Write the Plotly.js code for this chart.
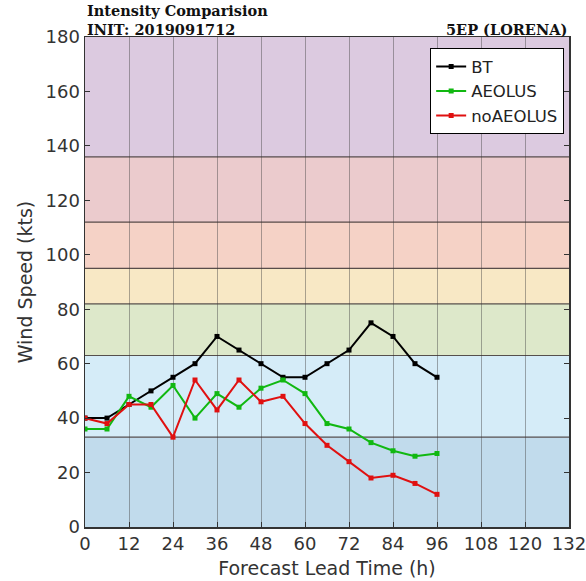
<!DOCTYPE html>
<html>
<head>
<meta charset="utf-8">
<script src="https://cdn.plot.ly/plotly-3.0.1.min.js"></script>
<style>
  html, body { margin: 0; padding: 0; background: #fff; }
  #chart { width: 586px; height: 581px; }
</style>
</head>
<body>
<div id="chart"></div>
<script>
// Forecast lead times (h)
const leadTime = [0, 6, 12, 18, 24, 30, 36, 42, 48, 54, 60, 66, 72, 78, 84, 90, 96];

// Intensity (kts)
const bt        = [40, 40, 45, 50, 55, 60, 70, 65, 60, 55, 55, 60, 65, 75, 70, 60, 55];
const aeolus    = [36, 36, 48, 44, 52, 40, 49, 44, 51, 54, 49, 38, 36, 31, 28, 26, 27];
const noAeolus  = [40, 38, 45, 45, 33, 54, 43, 54, 46, 48, 38, 30, 24, 18, 19, 16, 12];

// Saffir-Simpson category bands (kts)
const bandEdges  = [0, 33, 63, 82, 95, 112, 136, 180];
const bandColors = ['#c1dbec', '#d5ecf8', '#dde8ca', '#f8e8c5', '#f5d2c6', '#ebcbcd', '#dccae0'];

const xTicks = [0, 12, 24, 36, 48, 60, 72, 84, 96, 108, 120, 132];
const yTicks = [0, 20, 40, 60, 80, 100, 120, 140, 160, 180];

const shapes = [];
for (let i = 0; i < bandColors.length; i++) {
  shapes.push({
    type: 'rect', xref: 'x', yref: 'y', layer: 'below',
    x0: 0, x1: 132, y0: bandEdges[i], y1: bandEdges[i + 1],
    fillcolor: bandColors[i], line: { width: 0 }
  });
}
for (let i = 1; i < bandEdges.length - 1; i++) {
  shapes.push({
    type: 'line', xref: 'x', yref: 'y', layer: 'between',
    x0: 0, x1: 132, y0: bandEdges[i], y1: bandEdges[i],
    line: { color: 'rgba(60,50,50,0.85)', width: 1.2 }
  });
}

function series(name, y, color) {
  return {
    type: 'scatter', mode: 'lines+markers', name: name,
    x: leadTime, y: y,
    line: { color: color, width: 2 },
    marker: { color: color, size: 5, symbol: 'square' }
  };
}

const data = [
  series('BT', bt, '#000000'),
  series('AEOLUS', aeolus, '#11b811'),
  series('noAEOLUS', noAeolus, '#e01010')
];

const serif = 'DejaVu Serif, Liberation Serif, serif';

const layout = {
  width: 586, height: 581,
  margin: { l: 85, r: 17, t: 37, b: 54 },
  paper_bgcolor: '#ffffff',
  plot_bgcolor: 'rgba(0,0,0,0)',
  font: { family: 'DejaVu Sans, sans-serif', color: '#333333' },
  showlegend: true,
  legend: {
    x: 0.99, y: 0.977, xanchor: 'right', yanchor: 'top',
    bgcolor: '#ffffff', bordercolor: '#000000', borderwidth: 1,
    font: { size: 16.5, color: '#222222' },
    tracegroupgap: 0, itemwidth: 30
  },
  xaxis: {
    range: [0, 132], tickvals: xTicks, ticktext: xTicks.map(String),
    showgrid: true, gridcolor: 'rgba(70,70,70,0.45)', gridwidth: 1,
    zeroline: false, showline: true, linecolor: '#333333', linewidth: 1.5, mirror: true,
    ticks: 'inside', ticklen: 5, tickcolor: '#333333',
    ticklabeloverflow: 'allow',
    tickfont: { size: 18, color: '#333333' },
    title: { text: 'Forecast Lead Time (h)', font: { size: 19, color: '#333333' }, standoff: 8 }
  },
  yaxis: {
    range: [0, 180], tickvals: yTicks, ticktext: yTicks.map(String),
    showgrid: false, zeroline: false,
    showline: true, linecolor: '#333333', linewidth: 1.5, mirror: 'ticks',
    ticks: 'inside', ticklen: 5, tickcolor: '#333333',
    tickfont: { size: 18, color: '#333333' },
    title: { text: 'Wind Speed (kts)', font: { size: 19, color: '#333333' }, standoff: 8 }
  },
  shapes: shapes,
  annotations: [
    {
      xref: 'paper', yref: 'paper', x: 0, y: 1, xanchor: 'left', yanchor: 'bottom',
      yshift: -3.5, align: 'left', showarrow: false,
      text: '<b>Intensity Comparision</b><br><b>INIT: 2019091712</b>',
      font: { family: serif, size: 14.5, color: '#111111' }
    },
    {
      xref: 'paper', yref: 'paper', x: 1, y: 1, xanchor: 'right', yanchor: 'bottom',
      yshift: -3.5, showarrow: false,
      text: '<b>5EP (LORENA)</b>',
      font: { family: serif, size: 14.5, color: '#111111' }
    }
  ]
};

Plotly.newPlot('chart', data, layout, { displayModeBar: false, staticPlot: true });
</script>
</body>
</html>
